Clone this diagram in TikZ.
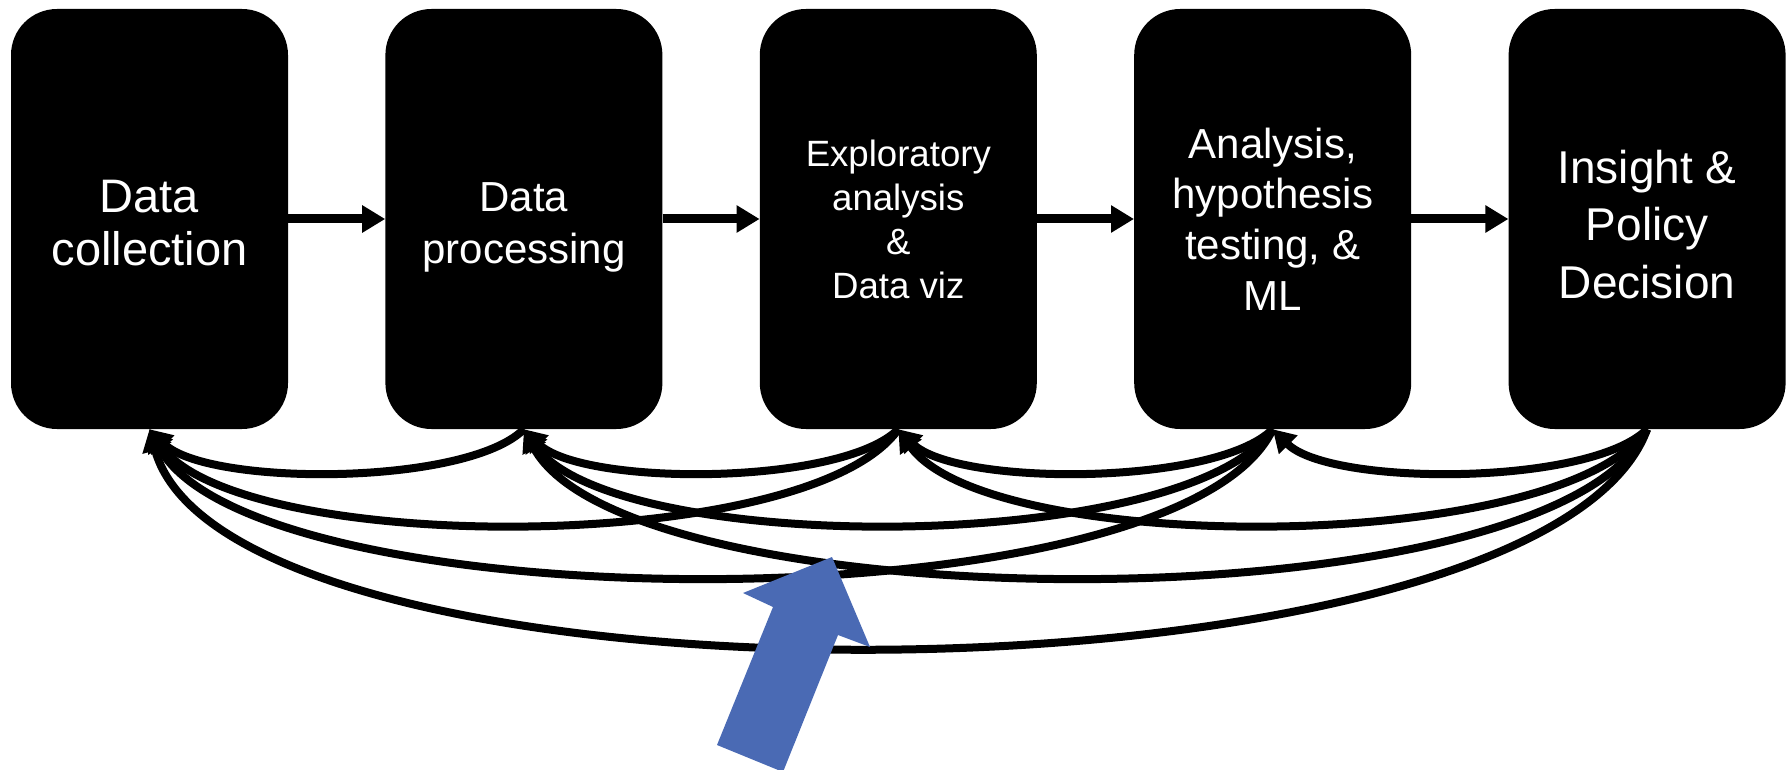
\documentclass[tikz,border=0pt]{standalone}
\usepackage{fontspec}
\setmainfont{Liberation Sans}
\usetikzlibrary{positioning,arrows.meta}
\definecolor{arrowblue}{RGB}{74,106,180}

\begin{document}
\begin{tikzpicture}[x=1pt,y=1pt]
	\tikzstyle{stage}=[fill=black, text=white, rounded corners=46pt, minimum width=277pt, minimum height=420pt, align=center, inner sep=0pt]
	\tikzstyle{flow}=[line width=9pt, -{Triangle[length=23pt,width=26pt]}]
	\tikzstyle{back}=[line width=8pt, -{Triangle[length=22pt,width=25pt]}]
	\useasboundingbox (0,0) rectangle (1792,-770);
	% the five stages
	\node[stage, font=\fontsize{47}{53}\selectfont] (dc) at (149.5,-219) {\rule{0pt}{40pt}Data\\collection};
	\node[stage, font=\fontsize{42}{52}\selectfont] (dp) [right=97pt of dc] {\rule{0pt}{46pt}Data\\processing};
	\node[stage, font=\fontsize{36.6}{44}\selectfont] (eda) [right=97pt of dp] {Exploratory\\analysis\\\&\\Data viz};
	\node[stage, font=\fontsize{42}{50.7}\selectfont] (aht) [right=97pt of eda] {Analysis,\\hypothesis\\testing, \&\\ML};
	\node[stage, font=\fontsize{46}{57.5}\selectfont] (ipd) [right=97pt of aht] {\rule{0pt}{44pt}Insight \&\\Policy\\Decision};
	% forward
	\draw[flow] (dc.east) -- (dp.west);
	\draw[flow] (dp.east) -- (eda.west);
	\draw[flow] (eda.east) -- (aht.west);
	\draw[flow] (aht.east) -- (ipd.west);
	% feedback, one step back
	\draw[back] (dp.south) .. controls +(225:81) and +(315:81) .. (dc.south);
	\draw[back] (eda.south) .. controls +(225:81) and +(315:81) .. (dp.south);
	\draw[back] (aht.south) .. controls +(225:81) and +(315:81) .. (eda.south);
	\draw[back] (ipd.south) .. controls +(225:81) and +(315:81) .. (aht.south);
	% two steps back
	\draw[back] (eda.south) .. controls +(235:155) and +(305:155) .. (dc.south);
	\draw[back] (aht.south) .. controls +(235:155) and +(305:155) .. (dp.south);
	\draw[back] (ipd.south) .. controls +(235:155) and +(305:155) .. (eda.south);
	% three and four steps back
	\draw[back] (aht.south) .. controls +(245:220) and +(298:220) .. (dc.south);
	\draw[back] (ipd.south) .. controls +(245:220) and +(298:220) .. (dp.south);
	\draw[back] (ipd.south) .. controls +(250:305) and +(285:305) .. (dc.south);
	% blue pointer
	\fill[arrowblue] (717,-745) -- (773,-607) -- (743,-593) -- (832,-557) -- (870,-647) -- (838,-635) -- (783,-772) -- cycle;
\end{tikzpicture}
\end{document}
